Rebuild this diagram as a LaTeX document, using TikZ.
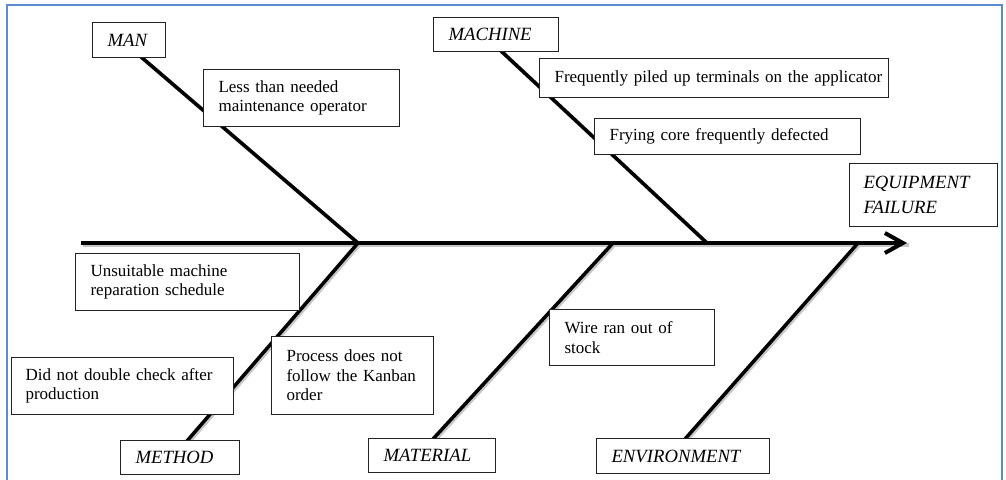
\documentclass[tikz,border=0pt]{standalone}
\usepackage{fontspec}
\setmainfont{Liberation Serif}
\usetikzlibrary{arrows.meta}
\definecolor{framec}{HTML}{5B8BD0}
\definecolor{boxline}{HTML}{222222}
\newcommand{\nohyph}{\hyphenpenalty=10000\relax\exhyphenpenalty=10000\relax\spaceskip=0.18em\relax}
\begin{document}
\begin{tikzpicture}[x=1pt,y=-1pt,
  bone/.style={line width=3.5pt},
  boneshadow/.style={line width=4pt, draw=black!22, transform canvas={xshift=1.5pt,yshift=-1.5pt}},
  cbox/.style={draw=boxline, line width=1.1pt, fill=white, anchor=north west,
    inner xsep=15pt, inner ysep=0pt, align=left,
    font=\fontsize{17}{19.5}\selectfont\nohyph},
  catbox/.style={cbox, font=\fontsize{18.7}{25}\selectfont\itshape},
]
\useasboundingbox (0,0) rectangle (1006,479);
% frame
\draw[framec, line width=2pt] (7,480) -- (7,5) -- (1002,5) -- (1002,480);

% junctions on the spine and branch ends
\coordinate (tail) at (81,243);
\coordinate (head) at (907,243);
\coordinate (j1) at (358,243);
\coordinate (j2) at (707,243);
\coordinate (j3) at (613,243);
\coordinate (j4) at (858,243);
\coordinate (manB) at (140,56);
\coordinate (machB) at (500,50);
\coordinate (methB) at (187,441);
\coordinate (matB) at (433,439);
\coordinate (envB) at (685,439);

% shadows
\foreach \a/\b in {manB/j1, machB/j2, j1/methB, j3/matB, j4/envB}
  \draw[boneshadow] (\a) -- (\b);
\draw[boneshadow] (tail) -- (head);

% bones
\draw[bone] (manB) -- (j1);
\draw[bone] (machB) -- (j2);
\draw[bone] (j1) -- (methB);
\draw[bone] (j3) -- (matB);
\draw[bone] (j4) -- (envB);
\draw[line width=4pt, -{Straight Barb[length=18pt,width=20pt]}] (tail) -- (head);

% category boxes
\node[catbox, text width=43pt, minimum height=35pt] (man) at (92,22) {MAN};
\node[catbox, text width=95pt, minimum height=34pt] (machine) at (433,17) {MACHINE};
\node[catbox, text width=120pt, minimum height=63pt, inner xsep=14pt] (effect) at (849,163) {EQUIPMENT\\FAILURE};
\node[catbox, text width=89pt, minimum height=34pt] (method) at (120,440) {METHOD};
\node[catbox, text width=97pt, minimum height=34pt] (material) at (368,438) {MATERIAL};
\node[catbox, text width=143pt, minimum height=35pt] (environment) at (596,438) {ENVIRONMENT};

% cause boxes
\node[cbox, text width=166pt, minimum height=57pt] (c1) at (203,69) {Less than needed\\maintenance operator};
\node[cbox, text width=319pt, minimum height=39pt] (c2) at (539,58) {\mbox{Frequently piled up terminals on the applicator}};
\node[cbox, text width=236pt, minimum height=36pt] (c3) at (594,118) {Frying core frequently defected};
\node[cbox, text width=194pt, minimum height=57pt] (c4) at (75,253) {Unsuitable machine\\reparation schedule};
\node[cbox, text width=194pt, minimum height=57pt, inner xsep=14pt] (c5) at (11,357) {Did not double check after\\production};
\node[cbox, text width=132pt, minimum height=78pt] (c6) at (271,336) {Process does not\\follow the Kanban\\order};
\node[cbox, text width=135pt, minimum height=56pt] (c7) at (549,309) {Wire ran out of\\stock};
\end{tikzpicture}
\end{document}
